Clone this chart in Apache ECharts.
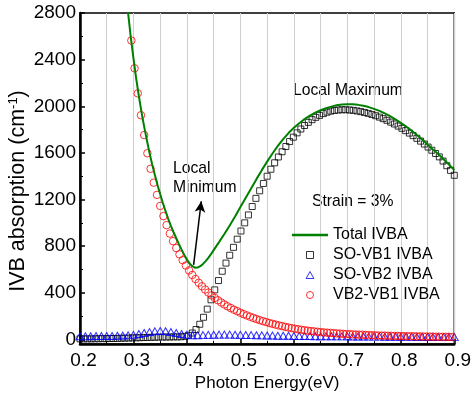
<!DOCTYPE html>
<html>
<head>
<meta charset="utf-8">
<script src="https://cdn.jsdelivr.net/npm/echarts@6/dist/echarts.min.js"></script>
<style>
html, body { margin: 0; padding: 0; background: #fff; }
#chart { width: 474px; height: 397px; }
</style>
</head>
<body>
<div id="chart"></div>
<script>
// values, [photon energy (eV), absorption (cm^-1)]
const totalIvba = [
  [0.289,2840],[0.295,2590],[0.300,2410],[0.305,2240],[0.310,2090],[0.315,1950],[0.320,1825],
  [0.325,1710],[0.330,1600],[0.335,1500],[0.340,1410],[0.345,1325],[0.350,1245],[0.355,1170],
  [0.360,1100],[0.365,1035],[0.370,975],[0.375,920],[0.380,868],[0.385,818],[0.390,770],
  [0.395,725],[0.400,685],[0.405,652],[0.410,628],[0.415,615],[0.420,616],[0.425,628],
  [0.430,648],[0.435,672],[0.440,700],[0.445,732],[0.450,766],[0.460,835],[0.470,905],
  [0.480,978],[0.490,1055],[0.500,1135],[0.510,1215],[0.520,1295],[0.530,1375],[0.540,1452],
  [0.550,1525],[0.560,1595],[0.570,1660],[0.580,1718],[0.590,1770],[0.600,1815],[0.610,1855],
  [0.620,1890],[0.630,1920],[0.640,1945],[0.650,1966],[0.660,1983],[0.670,1997],[0.680,2008],
  [0.690,2015],[0.700,2018],[0.710,2017],[0.720,2012],[0.730,2004],[0.740,1993],[0.750,1978],
  [0.760,1960],[0.770,1939],[0.780,1915],[0.790,1888],[0.800,1858],[0.810,1826],[0.820,1791],
  [0.830,1754],[0.840,1714],[0.850,1672],[0.860,1630],[0.870,1590],[0.880,1546],[0.890,1500],
  [0.900,1452]
];

const soVb1 = [
  [0.200,5],[0.207,5],[0.214,5],[0.221,5],[0.228,6],[0.235,6],[0.242,7],[0.249,7],[0.256,8],
  [0.263,8],[0.270,9],[0.277,10],[0.284,11],[0.291,12],[0.298,13],[0.305,14],[0.312,15],
  [0.319,16],[0.326,17],[0.333,18],[0.340,19],[0.347,20],[0.354,20],[0.361,21],[0.368,21],
  [0.375,22],[0.382,22],[0.389,23],[0.396,26],[0.403,35],[0.410,55],[0.417,85],[0.424,130],
  [0.431,190],[0.438,260],[0.445,340],[0.452,425],[0.459,505],[0.466,585],[0.473,655],
  [0.480,722],[0.487,790],[0.494,860],[0.501,930],[0.508,1000],[0.515,1068],[0.522,1140],
  [0.529,1210],[0.536,1275],[0.543,1338],[0.550,1400],[0.557,1460],[0.564,1515],[0.571,1565],
  [0.578,1610],[0.585,1655],[0.592,1697],[0.599,1735],[0.606,1772],[0.613,1805],[0.620,1835],
  [0.627,1862],[0.634,1885],[0.641,1905],[0.648,1922],[0.655,1937],[0.662,1949],[0.669,1958],
  [0.676,1964],[0.683,1968],[0.690,1970],[0.697,1970],[0.704,1968],[0.711,1965],[0.718,1960],
  [0.725,1954],[0.732,1947],[0.739,1939],[0.746,1930],[0.753,1919],[0.760,1907],[0.767,1894],
  [0.774,1880],[0.781,1864],[0.788,1848],[0.795,1830],[0.802,1811],[0.809,1791],[0.816,1770],
  [0.823,1748],[0.830,1725],[0.837,1701],[0.844,1676],[0.851,1650],[0.858,1623],[0.865,1595],
  [0.872,1566],[0.879,1530],[0.886,1490],[0.893,1450],[0.900,1408]
];

const soVb2 = [
  [0.20,28],[0.21,28],[0.22,28],[0.23,29],[0.24,29],[0.25,30],[0.26,30],[0.27,31],[0.28,33],
  [0.29,35],[0.30,39],[0.31,46],[0.32,55],[0.33,63],[0.34,69],[0.35,72],[0.36,70],[0.37,64],
  [0.38,55],[0.39,46],[0.40,39],[0.41,36],[0.42,36],[0.43,37],[0.44,39],[0.45,40],[0.46,41],
  [0.47,41],[0.48,41],[0.49,40],[0.50,39],[0.51,38],[0.52,37],[0.53,36],[0.54,35],[0.55,34],
  [0.56,33],[0.57,32],[0.58,31],[0.59,31],[0.60,30],[0.61,30],[0.62,29],[0.63,29],[0.64,28],
  [0.65,28],[0.66,27],[0.67,27],[0.68,26],[0.69,26],[0.70,26],[0.71,25],[0.72,25],[0.73,25],
  [0.74,24],[0.75,24],[0.76,24],[0.77,23],[0.78,23],[0.79,23],[0.80,22],[0.81,22],[0.82,22],
  [0.83,21],[0.84,21],[0.85,21],[0.86,21],[0.87,20],[0.88,20],[0.89,20],[0.90,20]
];

const vb2Vb1 = [
  [0.296,2564],[0.302,2326],[0.308,2111],[0.314,1923],[0.320,1753],[0.326,1597],[0.332,1464],
  [0.338,1345],[0.344,1240],[0.350,1145],[0.356,1058],[0.362,980],[0.368,908],[0.374,843],
  [0.380,784],[0.386,730],[0.392,680],[0.398,634],[0.404,592],[0.410,553],[0.416,518],
  [0.422,486],[0.428,456],[0.434,428],[0.440,402],[0.446,378],[0.452,356],[0.458,336],
  [0.464,317],[0.470,300],[0.476,284],[0.482,269],[0.488,255],[0.494,242],[0.500,229],
  [0.506,217],[0.512,206],[0.518,195],[0.524,185],[0.530,175],[0.536,166],[0.542,157],
  [0.548,149],[0.554,141],[0.560,134],[0.566,127],[0.572,120],[0.578,114],[0.584,108],
  [0.590,102],[0.596,97],[0.602,92],[0.608,87],[0.614,83],[0.620,79],[0.626,75],[0.632,72],
  [0.638,69],[0.644,66],[0.650,63],[0.656,60],[0.662,58],[0.668,56],[0.674,54],[0.680,52],
  [0.686,50],[0.692,48],[0.698,46],[0.704,45],[0.710,43],[0.716,42],[0.722,41],[0.728,40],
  [0.734,38],[0.740,37],[0.746,36],[0.752,35],[0.758,34],[0.764,33],[0.770,33],[0.776,32],
  [0.782,31],[0.788,30],[0.794,30],[0.800,29],[0.806,28],[0.812,28],[0.818,27],[0.824,27],
  [0.830,26],[0.836,26],[0.842,25],[0.848,25],[0.854,24],[0.860,24],[0.866,23],[0.872,23],
  [0.878,22],[0.884,22],[0.890,22],[0.896,21]
];

const yTicks = [0, 400, 800, 1200, 1600, 2000, 2400, 2800];
const yMinorTicks = [200, 600, 1000, 1400, 1800, 2200, 2600];
const arrowFrom = [0.4125, 640];
const arrowTo = [0.4268, 1185];

const font = 'Liberation Sans, Arial, sans-serif';
const chart = echarts.init(document.getElementById('chart'));

chart.setOption({
  animation: false,
  grid: { left: 80, right: 15, top: 13, bottom: 50, show: true, borderColor: '#000', borderWidth: 1.5 },
  xAxis: {
    type: 'value', min: 0.2, max: 0.9, interval: 0.1,
    axisLine: { onZero: false, lineStyle: { color: '#000', width: 2.5 } },
    axisTick: { inside: true, length: 5, lineStyle: { color: '#000', width: 1.5 } },
    minorTick: { show: true, splitNumber: 2, length: 3, lineStyle: { color: '#000', width: 1 } },
    splitLine: { show: true, lineStyle: { color: '#cfcfcf', width: 1 } },
    minorSplitLine: { show: true, lineStyle: { color: '#cfcfcf', width: 1 } },
    axisLabel: { fontSize: 19, color: '#000', fontFamily: font, margin: 7, padding: [0, 0, 0, 7],
      formatter: v => v.toFixed(1) },
    name: 'Photon Energy(eV)', nameLocation: 'middle', nameGap: 26,
    nameTextStyle: { fontSize: 17, color: '#000', fontFamily: font }
  },
  yAxis: [{
    type: 'value', min: -40, max: 2800,
    axisLine: { show: true, lineStyle: { color: '#000', width: 2.5 } },
    axisTick: { show: true, inside: true, length: 5, customValues: yTicks, lineStyle: { color: '#000', width: 1.5 } },
    axisLabel: { customValues: yTicks, fontSize: 19, color: '#000', fontFamily: font, margin: 4,
      formatter: v => String(v) },
    splitLine: { show: false }
  }, {
    type: 'value', min: -40, max: 2800, position: 'left',
    axisLine: { show: false },
    axisTick: { show: true, inside: true, length: 3, customValues: yMinorTicks, lineStyle: { color: '#000', width: 1 } },
    axisLabel: { show: false },
    splitLine: { show: false }
  }],
  legend: {
    orient: 'vertical', left: 287, top: 222, itemWidth: 36, itemHeight: 7, itemGap: 4,
    selectedMode: false,
    textStyle: { fontSize: 16, color: '#000', fontFamily: font, lineHeight: 16 },
    data: [
      { name: 'Total IVBA', icon: 'path://M0,0H36V2.4H0Z', itemStyle: { color: '#008000', borderWidth: 0 } },
      { name: 'SO-VB1 IVBA', icon: 'path://M0,0H10V10H0Z',
        itemStyle: { color: 'rgba(0,0,0,0)', borderColor: '#000', borderWidth: 1 } },
      { name: 'SO-VB2 IVBA', icon: 'path://M5,0L10,9H0Z',
        itemStyle: { color: 'rgba(0,0,0,0)', borderColor: '#0000ff', borderWidth: 1 } },
      { name: 'VB2-VB1 IVBA', icon: 'circle',
        itemStyle: { color: 'rgba(0,0,0,0)', borderColor: '#ff0000', borderWidth: 1 } }
    ]
  },
  series: [
    {
      name: 'SO-VB1 IVBA', type: 'scatter', data: soVb1, symbol: 'rect', symbolSize: 6, silent: true,
      itemStyle: { color: 'rgba(0,0,0,0)', borderColor: '#000', borderWidth: 1 }
    },
    {
      name: 'SO-VB2 IVBA', type: 'scatter', data: soVb2, symbol: 'triangle', symbolSize: [8, 7], silent: true,
      itemStyle: { color: 'rgba(0,0,0,0)', borderColor: '#0000ff', borderWidth: 1 }
    },
    {
      name: 'VB2-VB1 IVBA', type: 'scatter', data: vb2Vb1, symbol: 'circle', symbolSize: 7.5, silent: true,
      itemStyle: { color: 'rgba(0,0,0,0)', borderColor: '#ff0000', borderWidth: 1 }
    },
    {
      name: 'Total IVBA', type: 'line', data: totalIvba, showSymbol: false, smooth: false, z: 5, silent: true,
      lineStyle: { color: '#008000', width: 2 }, itemStyle: { color: '#008000' },
      markLine: {
        silent: true, symbol: ['none', 'arrow'], symbolSize: [8, 11], label: { show: false },
        lineStyle: { color: '#000', width: 1.5, type: 'solid' },
        data: [[{ coord: arrowFrom }, { coord: arrowTo }]]
      }
    }
  ],
  graphic: [
    { type: 'text', x: 18, y: 191, rotation: Math.PI / 2,
      style: { text: 'IVB absorption (cm{sup|-1})', fontSize: 21.5, fontFamily: font, fill: '#000',
        align: 'center', verticalAlign: 'middle', lineHeight: 22,
        rich: { sup: { fontSize: 13, lineHeight: 13, verticalAlign: 'top', fontFamily: font } } } },
    { type: 'text', x: 348, y: 91,
      style: { text: 'Local Maximum', fontSize: 15.7, fontFamily: font, fill: '#000', align: 'center', verticalAlign: 'middle' } },
    { type: 'text', x: 173, y: 169,
      style: { text: 'Local', fontSize: 15.7, fontFamily: font, fill: '#000', align: 'left', verticalAlign: 'middle' } },
    { type: 'text', x: 173, y: 188,
      style: { text: 'Minimum', fontSize: 15.7, fontFamily: font, fill: '#000', align: 'left', verticalAlign: 'middle' } },
    { type: 'text', x: 312, y: 202,
      style: { text: 'Strain = 3%', fontSize: 15.7, fontFamily: font, fill: '#000', align: 'left', verticalAlign: 'middle' } }
  ]
});
</script>
</body>
</html>
